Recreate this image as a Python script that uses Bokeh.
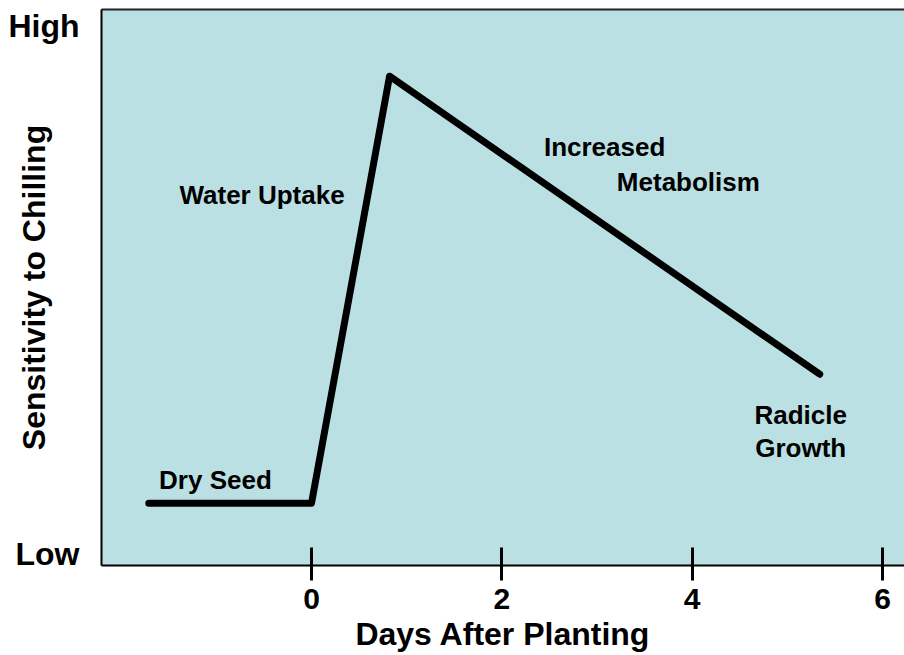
from bokeh.plotting import figure
from bokeh.models import FixedTicker, LinearAxis, Range1d
from bokeh.core.properties import value
from bokeh.embed import file_html
from bokeh.resources import INLINE

# Data (days after planting vs. relative sensitivity, 0-100 scale)
days = [-1.71, 0.0, 0.82, 5.34]
sensitivity = [11.2, 11.2, 88.0, 34.4]

x_ticks = [0, 2, 4, 6]
y_ticks = [2, 97]
y_tick_labels = ["Low", "High"]

ann_x = [-1.01, -0.52, 3.08, 3.96, 5.14, 5.14]
ann_y = [15.3, 66.7, 75.2, 68.9, 27.0, 21.2]
ann_text = ["Dry Seed", "Water Uptake", "Increased", "Metabolism", "Radicle", "Growth"]

FONT = "Liberation Sans"
BG = "#BBE0E3"

p = figure(width=904, height=655, output_backend="svg", toolbar_location=None,
           x_range=Range1d(-2.207, 6.231), y_range=Range1d(0, 100),
           x_axis_location="below", y_axis_location="left",
           min_border_left=101, min_border_right=0, min_border_top=9,
           min_border_bottom=90)
p.background_fill_color = BG
p.border_fill_color = "white"
p.outline_line_color = None
p.grid.visible = False

p.line(days, sensitivity, line_width=7, line_color="black",
       line_cap="round", line_join="round")

p.text(x=ann_x, y=ann_y, text=ann_text, text_font=value(FONT),
       text_font_style="bold", text_font_size="26px", text_color="black",
       text_align="center", text_baseline="middle")

# x axis
xa = p.xaxis[0]
xa.ticker = FixedTicker(ticks=x_ticks)
xa.minor_tick_line_color = None
xa.major_tick_in = 18
xa.major_tick_out = 15
xa.major_tick_line_width = 3
xa.major_tick_line_color = "black"
xa.axis_line_width = 2
xa.axis_line_color = "black"
xa.major_label_text_font = FONT
xa.major_label_text_font_style = "bold"
xa.major_label_text_font_size = "30px"
xa.major_label_text_color = "black"
xa.major_label_standoff = 8
xa.axis_label = "Days After Planting"
xa.axis_label_text_font = FONT
xa.axis_label_text_font_style = "bold"
xa.axis_label_text_font_size = "32px"
xa.axis_label_text_color = "black"
xa.axis_label_standoff = 4

# y axis
ya = p.yaxis[0]
ya.ticker = FixedTicker(ticks=y_ticks)
ya.major_label_overrides = {t: s for t, s in zip(y_ticks, y_tick_labels)}
ya.minor_tick_line_color = None
ya.major_tick_line_color = None
ya.major_tick_in = 0
ya.major_tick_out = 0
ya.axis_line_width = 2
ya.axis_line_color = "black"
ya.major_label_text_font = FONT
ya.major_label_text_font_style = "bold"
ya.major_label_text_font_size = "32px"
ya.major_label_text_color = "black"
ya.major_label_standoff = 22
ya.axis_label = "Sensitivity to Chilling"
ya.axis_label_text_font = FONT
ya.axis_label_text_font_style = "bold"
ya.axis_label_text_font_size = "32px"
ya.axis_label_text_color = "black"
ya.axis_label_standoff = -47

# top border as an axis line
top = LinearAxis(ticker=FixedTicker(ticks=[]), axis_line_width=2,
                 axis_line_color="#222222", major_tick_line_color=None,
                 minor_tick_line_color=None, major_label_text_font_size="0px",
                 major_tick_in=0, major_tick_out=0, major_label_standoff=0)
p.add_layout(top, "above")

open("out.html", "w").write(file_html(p, INLINE))
